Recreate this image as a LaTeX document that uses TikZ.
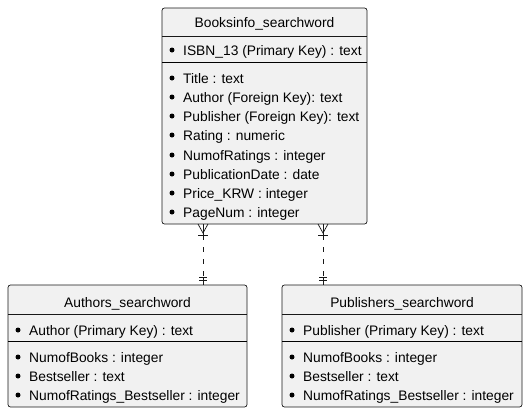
\documentclass[tikz,border=0pt]{standalone}
\usepackage{fontspec}
\setmainfont{Liberation Sans}
\usepackage{xcolor}
\usetikzlibrary{positioning, calc}

\definecolor{boxgray}{HTML}{F1F1F1}
\definecolor{linegray}{HTML}{181818}

\tikzset{
    entity/.style={draw=linegray, fill=boxgray, rounded corners=2.5pt, line width=0.7pt},
    entitle/.style={font=\fontsize{13.8}{15}\selectfont, inner sep=0pt, anchor=base},
    field/.style={font=\fontsize{13.8}{15}\selectfont, inner sep=0pt, anchor=base west},
    bullet/.style={circle, fill=black, inner sep=0pt, minimum size=5pt},
    rel/.style={draw=linegray, line width=0.7pt},
}

% one attribute row: x of box, y of row, text
\newcommand{\fieldrow}[3]{%
    \node[bullet] at (#1+10, #2) {};
    \node[field] at (#1+21, #2+5) {#3};
}

\begin{document}
\begin{tikzpicture}[x=1pt, y=-1pt]
    \useasboundingbox (0,0) rectangle (528,413);

    % Booksinfo_searchword
    \path[entity] (162,8) rectangle (367,224);
    \node[entitle] (Btitle) at (264.5,27) {Booksinfo\_searchword};
    \draw[linegray, line width=0.7pt] (162,36) -- (367,36);
    \fieldrow{162}{50}{ISBN\_13 (Primary Key) : text}
    \draw[black, line width=0.9pt] (162,62) -- (367,62);
    \fieldrow{162}{78}{Title : text}
    \fieldrow{162}{97}{Author (Foreign Key): text}
    \fieldrow{162}{116}{Publisher (Foreign Key): text}
    \fieldrow{162}{135}{Rating : numeric}
    \fieldrow{162}{155}{NumofRatings : integer}
    \fieldrow{162}{174}{PublicationDate : date}
    \fieldrow{162}{193}{Price\_KRW : integer}
    \fieldrow{162}{212}{PageNum : integer}

    % Authors_searchword
    \path[entity] (8,285) rectangle (247,407);
    \node[entitle] (Atitle) at (127.5,307) {Authors\_searchword};
    \draw[linegray, line width=0.7pt] (8,314) -- (247,314);
    \fieldrow{8}{330}{Author (Primary Key) : text}
    \draw[black, line width=0.9pt] (8,341) -- (247,341);
    \fieldrow{8}{357}{NumofBooks : integer}
    \fieldrow{8}{376}{Bestseller : text}
    \fieldrow{8}{395}{NumofRatings\_Bestseller : integer}

    % Publishers_searchword
    \path[entity] (282,285) rectangle (522,407);
    \node[entitle] (Ptitle) at (402,307) {Publishers\_searchword};
    \draw[linegray, line width=0.7pt] (282,314) -- (522,314);
    \fieldrow{282}{330}{Publisher (Primary Key) : text}
    \draw[black, line width=0.9pt] (282,341) -- (522,341);
    \fieldrow{282}{357}{NumofBooks : integer}
    \fieldrow{282}{376}{Bestseller : text}
    \fieldrow{282}{395}{NumofRatings\_Bestseller : integer}

    % Relations: one-or-many to exactly one
    \foreach \rx in {203,323} {
        \coordinate (top) at (\rx,224);
        \coordinate (bot) at (\rx,285);
        \draw[rel] ($(top)+(-5,0)$) -- ($(top)+(0,9)$) -- ($(top)+(5,0)$);
        \draw[rel] (top) -- ($(top)+(0,11)$);
        \draw[rel] ($(top)+(-5,11)$) -- ($(top)+(5,11)$);
        \draw[rel, dash pattern=on 5pt off 7pt] ($(top)+(0,11)$) -- ($(bot)+(0,-8)$);
        \draw[rel] ($(bot)+(0,-8)$) -- (bot);
        \draw[rel] ($(bot)+(-4,-8)$) -- ($(bot)+(4,-8)$);
        \draw[rel] ($(bot)+(-4,-5)$) -- ($(bot)+(4,-5)$);
    }
\end{tikzpicture}
\end{document}
